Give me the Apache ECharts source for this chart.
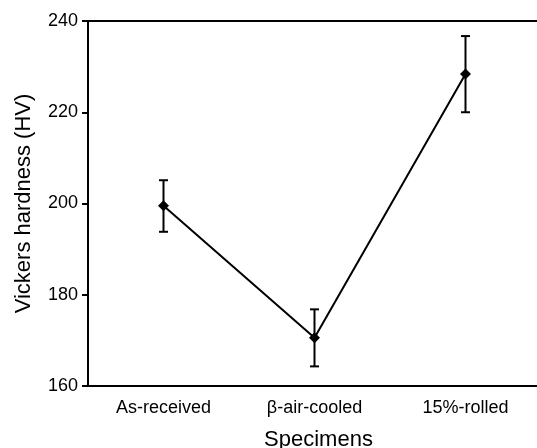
<!DOCTYPE html>
<html><head><meta charset="utf-8">
<script src="https://cdn.jsdelivr.net/npm/echarts@6/dist/echarts.min.js"></script>
<style>html,body{margin:0;padding:0;background:#fff}#c{width:537px;height:448px}</style>
</head><body><div id="c"></div>
<script>
const categories = ['As-received', 'β-air-cooled', '15%-rolled'];
const hardness = [199.5, 170.6, 228.4];
const errLow = [193.8, 164.3, 220.0];
const errHigh = [205.1, 176.8, 236.7];
const yTicks = [160, 180, 200, 220, 240];

const chart = echarts.init(document.getElementById('c'));
const font = 'Liberation Sans, Arial, sans-serif';
chart.setOption({
  animation: false,
  grid: { left: 88, top: 21, width: 453, height: 365, containLabel: false, outerBoundsMode: 'none' },
  xAxis: [{
    type: 'category', data: categories, position: 'bottom',
    axisLine: { lineStyle: { color: '#000', width: 2 } },
    axisTick: { alignWithLabel: true, length: 6, lineStyle: { color: '#000', width: 2 } },
    axisLabel: { color: '#000', fontSize: 18, fontFamily: font, margin: 13 },
    name: 'Specimens', nameLocation: 'middle', nameGap: 43,
    nameTextStyle: { color: '#000', fontSize: 22, fontFamily: font, padding: [0, 0, 0, 8] }
  }, {
    type: 'category', data: categories, position: 'top',
    axisLine: { lineStyle: { color: '#000', width: 2 } },
    axisTick: { show: false }, axisLabel: { show: false }
  }],
  yAxis: {
    type: 'value', min: yTicks[0], max: yTicks[yTicks.length - 1], interval: 20,
    axisLine: { show: true, lineStyle: { color: '#000', width: 2 } },
    axisTick: { show: true, length: 6, lineStyle: { color: '#000', width: 2 } },
    splitLine: { show: false },
    axisLabel: { color: '#000', fontSize: 18, fontFamily: font, margin: 10 },
    name: 'Vickers hardness (HV)', nameLocation: 'middle', nameGap: 53,
    nameTextStyle: { color: '#000', fontSize: 22, fontFamily: font }
  },
  series: [{
    type: 'custom',
    data: categories.map((c, i) => [i, errLow[i], errHigh[i]]),
    renderItem: function (params, api) {
      const lo = api.coord([api.value(0), api.value(1)]);
      const hi = api.coord([api.value(0), api.value(2)]);
      const w = 4.5;
      const st = { stroke: '#000', lineWidth: 2 };
      return { type: 'group', children: [
        { type: 'line', shape: { x1: lo[0], y1: lo[1], x2: hi[0], y2: hi[1] }, style: st },
        { type: 'line', shape: { x1: lo[0] - w, y1: lo[1], x2: lo[0] + w, y2: lo[1] }, style: st },
        { type: 'line', shape: { x1: hi[0] - w, y1: hi[1], x2: hi[0] + w, y2: hi[1] }, style: st }
      ]};
    },
    z: 2
  }, {
    type: 'line', data: hardness,
    symbol: 'diamond', symbolSize: 11,
    itemStyle: { color: '#000' },
    lineStyle: { color: '#000', width: 2 },
    z: 3
  }]
});
</script></body></html>
